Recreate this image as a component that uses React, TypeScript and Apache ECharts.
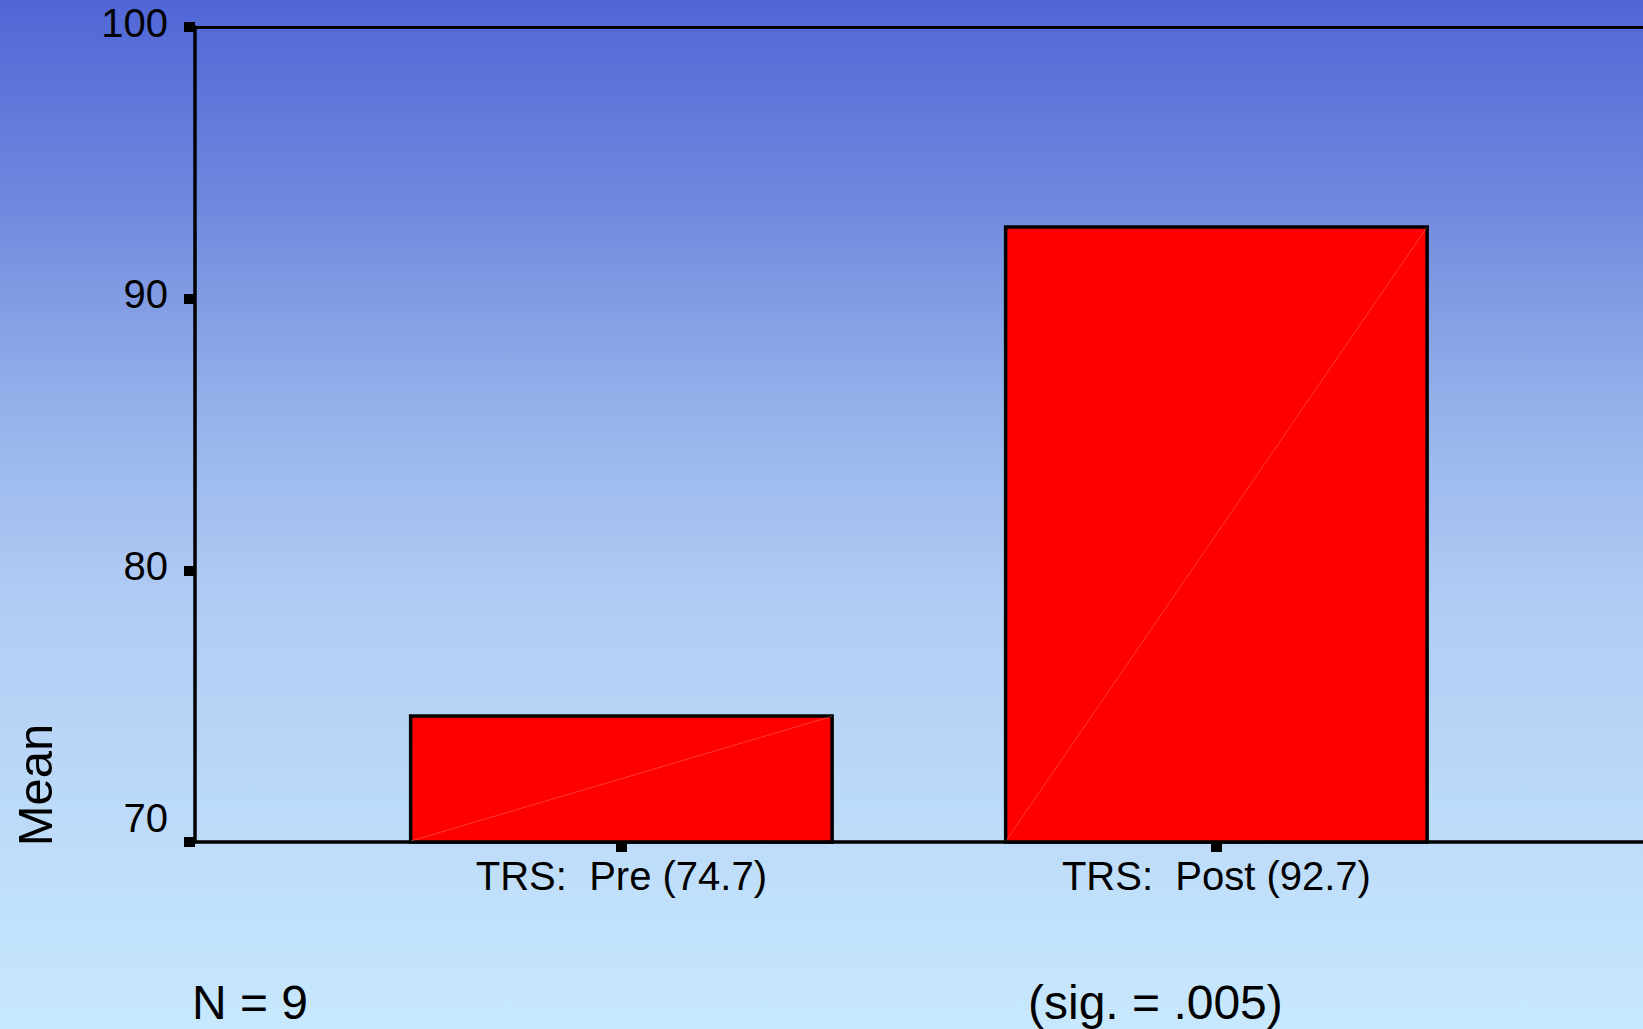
import React, { useEffect, useRef } from "react";
import * as echarts from "echarts";

// ---- data ----
const categories = ["TRS:  Pre (74.7)", "TRS:  Post (92.7)"];
const categoryPositions = [1, 2];
const means = [74.7, 92.7];
const yMin = 70;
const yMax = 100;
const yInterval = 10;
const xMin = 0.2834;
const xMax = 2.717;
const sampleNote = "N = 9";
const sigNote = "(sig. = .005)";
const yAxisTitle = "Mean";

const FONT = "'Liberation Sans', Arial, sans-serif";

export default function App() {
  const ref = useRef<HTMLDivElement>(null);

  useEffect(() => {
    if (!ref.current) return;
    const chart = echarts.init(ref.current, undefined, { renderer: "svg" });
    const barData = categoryPositions.map((p, i) => [p, means[i]]);
    const barW = 425;
    const halfBar = barW / 2;

    const labelStyle = {
      fontSize: 40,
      fontFamily: FONT,
      color: "#000",
    };

    chart.setOption({
      animation: false,
      backgroundColor: "transparent",
      grid: {
        left: 195,
        top: 27,
        bottom: 187,
        right: 0,
        show: false,
      },
      xAxis: [
        {
          type: "value",
          min: xMin,
          max: xMax,
          position: "bottom",
          splitLine: { show: false },
          axisLine: { show: true, onZero: false, lineStyle: { color: "#000", width: 3.5 } },
          axisTick: {
            show: true,
            customValues: categoryPositions,
            length: 10,
            lineStyle: { color: "#000", width: 11 },
          },
          axisLabel: {
            customValues: categoryPositions,
            margin: 14,
            ...labelStyle,
            formatter: (v: number) => {
              const idx = categoryPositions.indexOf(Math.round(v));
              return idx >= 0 ? categories[idx] : "";
            },
          },
        },
        {
          type: "value",
          min: xMin,
          max: xMax,
          position: "top",
          splitLine: { show: false },
          axisLine: { show: true, onZero: false, lineStyle: { color: "#000", width: 3 } },
          axisTick: { show: false },
          axisLabel: { show: false },
        },
      ],
      yAxis: {
        type: "value",
        min: yMin,
        max: yMax,
        interval: yInterval,
        splitLine: { show: false },
        axisLine: { show: true, onZero: false, lineStyle: { color: "#000", width: 3.5 } },
        axisTick: {
          show: true,
          length: 11,
          lineStyle: { color: "#000", width: 10 },
        },
        axisLabel: {
          margin: 27,
          ...labelStyle,
          formatter: (v: number) =>
            v === yMin ? "{low|" + v + "}" : "{std|" + v + "}",
          rich: {
            low: { ...labelStyle, padding: [0, 0, 48, 0] },
            std: { ...labelStyle, padding: [0, 0, 9, 0] },
          },
        },
      },
      series: [
        {
          type: "bar",
          data: barData,
          xAxisIndex: 0,
          barWidth: barW,
          clip: true,
          itemStyle: { color: "#ff0000", borderColor: "#000", borderWidth: 3.5 },
          z: 2,
        },
        {
          type: "custom",
          data: barData,
          xAxisIndex: 0,
          clip: true,
          z: 3,
          renderItem: (params: any, api: any) => {
            const x = api.value(0);
            const v = api.value(1);
            const p0 = api.coord([x, yMin]);
            const p1 = api.coord([x, v]);
            return {
              type: "line",
              shape: {
                x1: p0[0] - halfBar + 2,
                y1: p0[1] - 1,
                x2: p1[0] + halfBar - 2,
                y2: p1[1] + 2,
              },
              style: { stroke: "rgba(255,140,140,0.4)", lineWidth: 1 },
            };
          },
        },
      ],
      graphic: [
        {
          type: "text",
          x: 35,
          y: 785,
          rotation: Math.PI / 2,
          style: {
            text: yAxisTitle,
            fontSize: 49,
            fontFamily: FONT,
            fill: "#000",
            align: "center",
            verticalAlign: "middle",
          },
        },
        {
          type: "text",
          x: 192,
          y: 1002,
          style: {
            text: sampleNote,
            fontSize: 48,
            fontFamily: FONT,
            fill: "#000",
            align: "left",
            verticalAlign: "middle",
          },
        },
        {
          type: "text",
          x: 1028,
          y: 1002,
          style: {
            text: sigNote,
            fontSize: 48,
            fontFamily: FONT,
            fill: "#000",
            align: "left",
            verticalAlign: "middle",
          },
        },
      ],
    });

    return () => chart.dispose();
  }, []);

  return (
    <div
      ref={ref}
      style={{
        position: "absolute",
        left: 0,
        top: 0,
        width: 1643,
        height: 1029,
        background:
          "linear-gradient(to bottom, #5066D6 0%, #6F88DE 19.5%, #95B0EA 39%, #B0CCF4 58%, #C8E8FD 100%)",
      }}
    />
  );
}
